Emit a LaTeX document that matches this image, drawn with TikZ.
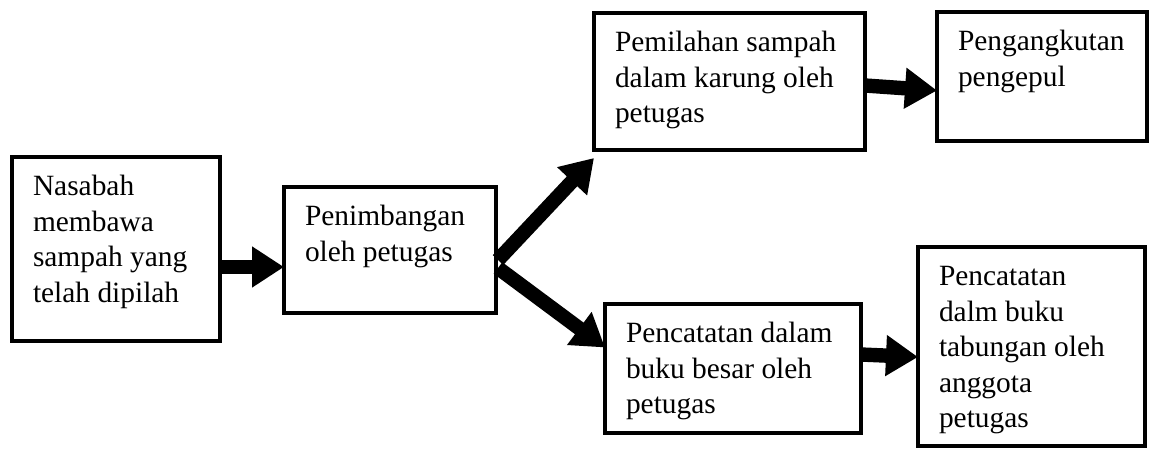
\documentclass[tikz,border=0pt]{standalone}
\usepackage{fontspec}
\setmainfont{Liberation Serif}
\usetikzlibrary{arrows.meta, positioning}

\begin{document}
\begin{tikzpicture}[
    x=0.5pt, y=-0.5pt,
    block/.style={rectangle, draw, line width=2.4pt, inner sep=0pt, outer sep=0pt, anchor=north west},
    txt/.style={inner sep=0pt, outer sep=0pt, align=left, font=\fontsize{14.7pt}{17.75pt}\selectfont},
    arrow/.style={-{Triangle[length=16pt, width=19.5pt]}, line width=7.2pt}
]
\useasboundingbox (0,0) rectangle (1152,449);

% boxes
\node[block, minimum width=104pt, minimum height=92pt] (nasabah) at (12,157) {};
\node[block, minimum width=106pt, minimum height=63pt] (timbang) at (284,187) {};
\node[block, minimum width=135.5pt, minimum height=68.5pt] (pilah) at (594,13) {};
\node[block, minimum width=105pt, minimum height=64.5pt] (angkut) at (937,12) {};
\node[block, minimum width=128pt, minimum height=64.5pt] (catatbesar) at (605,304) {};
\node[block, minimum width=113.5pt, minimum height=99.5pt] (catattabungan) at (918,247) {};

% texts
\node[txt, below right=7pt and 10.5pt of nasabah.north west] (nasabahtext) {\strut Nasabah\\membawa\\sampah yang\\telah dipilah};
\node[txt, below right=7pt and 10.5pt of timbang.north west] (timbangtext) {\strut Penimbangan\\oleh petugas};
\node[txt, below right=7pt and 10.5pt of pilah.north west] (pilahtext) {\strut Pemilahan sampah\\dalam karung oleh\\petugas};
\node[txt, below right=7pt and 10.5pt of angkut.north west] (angkuttext) {\strut Pengangkutan\\pengepul};
\node[txt, below right=7pt and 10.5pt of catatbesar.north west] (catatbesartext) {\strut Pencatatan dalam\\buku besar oleh\\petugas};
\node[txt, below right=7pt and 10.5pt of catattabungan.north west] (catattabungantext) {\strut Pencatatan\\dalm buku\\tabungan oleh\\anggota\\petugas};

% arrows
\draw[arrow] ([yshift=-9pt]nasabah.east) -- ([yshift=-8.5pt]timbang.west);
\draw[arrow] ([xshift=1pt, yshift=-5pt]timbang.east) -- ([yshift=-4pt]pilah.south west);
\draw[arrow] ([xshift=1pt, yshift=-9pt]timbang.east) -- ([yshift=10.5pt]catatbesar.west);
\draw[arrow] ([yshift=-2pt]pilah.east) -- ([yshift=-7pt]angkut.west);
\draw[arrow] ([yshift=7pt]catatbesar.east) -- ([yshift=-5.25pt]catattabungan.west);

\end{tikzpicture}
\end{document}
